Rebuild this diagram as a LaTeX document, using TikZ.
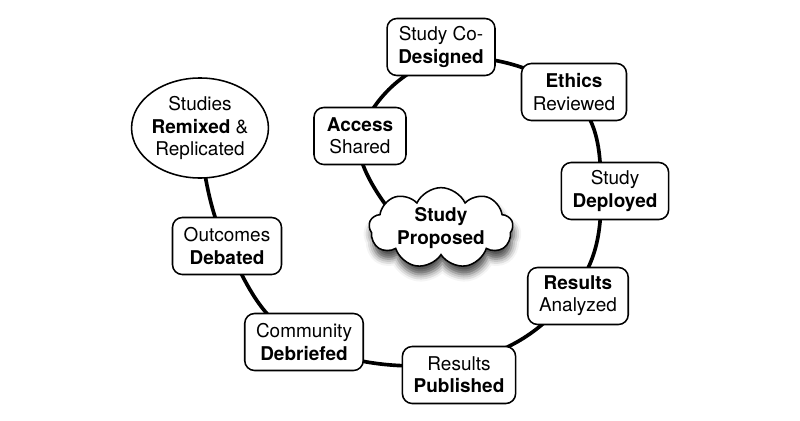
\documentclass[tikz,border=0pt]{standalone}
\usepackage{fontspec}
\setmainfont{TeX Gyre Heros}
\usetikzlibrary{shapes.geometric,shapes.symbols,shadows.blur,backgrounds,calc}

\begin{document}
\begin{tikzpicture}[x=0.025cm, y=-0.025cm,
    every node/.style={font=\fontsize{13.5}{15.8}\selectfont, align=center},
    stage/.style={draw, line width=1.1pt, rounded corners=7pt, fill=white,
      minimum height=1.425cm, minimum width=2.3cm, inner xsep=8pt},
    remix/.style={draw, ellipse, line width=1.1pt, fill=white,
      minimum width=3.35cm, minimum height=2.5cm, inner sep=0pt},
    idea/.style={draw, cloud, cloud puffs=9, cloud puff arc=130, cloud ignores aspect,
      line width=1.1pt, fill=white, minimum width=3.6cm, minimum height=1.95cm, inner sep=0pt,
      blur shadow={shadow xshift=1pt, shadow yshift=-6pt, shadow blur radius=5pt, shadow opacity=70}},
    spiral/.style={line width=2.6pt}
  ]
    \useasboundingbox (0,0) rectangle (800,420);

    % the stages, from the start of the spiral outwards
    \node[stage] (access) at (360,136) {\textbf{Access}\\Shared};
    \node[stage] (codesign) at (441,47) {Study Co-\\\textbf{Designed}};
    \node[stage] (ethics) at (574,92) {\textbf{Ethics}\\Reviewed};
    \node[stage] (deploy) at (615,191) {Study\\\textbf{Deployed}};
    \node[stage] (analyze) at (578,296) {\textbf{Results}\\Analyzed};
    \node[stage] (publish) at (459,375) {Results\\\textbf{Published}};
    \node[stage] (debrief) at (304,342) {Community\\\textbf{Debriefed}};
    \node[stage] (debate) at (227,246) {Outcomes\\\textbf{Debated}};
    \node[remix] (remix) at (200,128) {Studies\\\textbf{Remixed} \&\\Replicated};
    \node[idea] (idea) at (441,228) {\textbf{Study}\\\textbf{Proposed}};

    \begin{scope}[on background layer]
      \draw[spiral] plot[smooth, tension=0.7] coordinates {
        ($(idea)+(-45,-10)$) (access) ($(codesign)+(0,13)$) ($(ethics)+(-6,0)$)
        ($(deploy)+(-14,0)$) ($(analyze)+(-8,0)$) ($(publish)+(0,-13)$)
        (debrief) (debate) ($(remix)+(2,25)$)};
    \end{scope}
  \end{tikzpicture}
\end{document}
